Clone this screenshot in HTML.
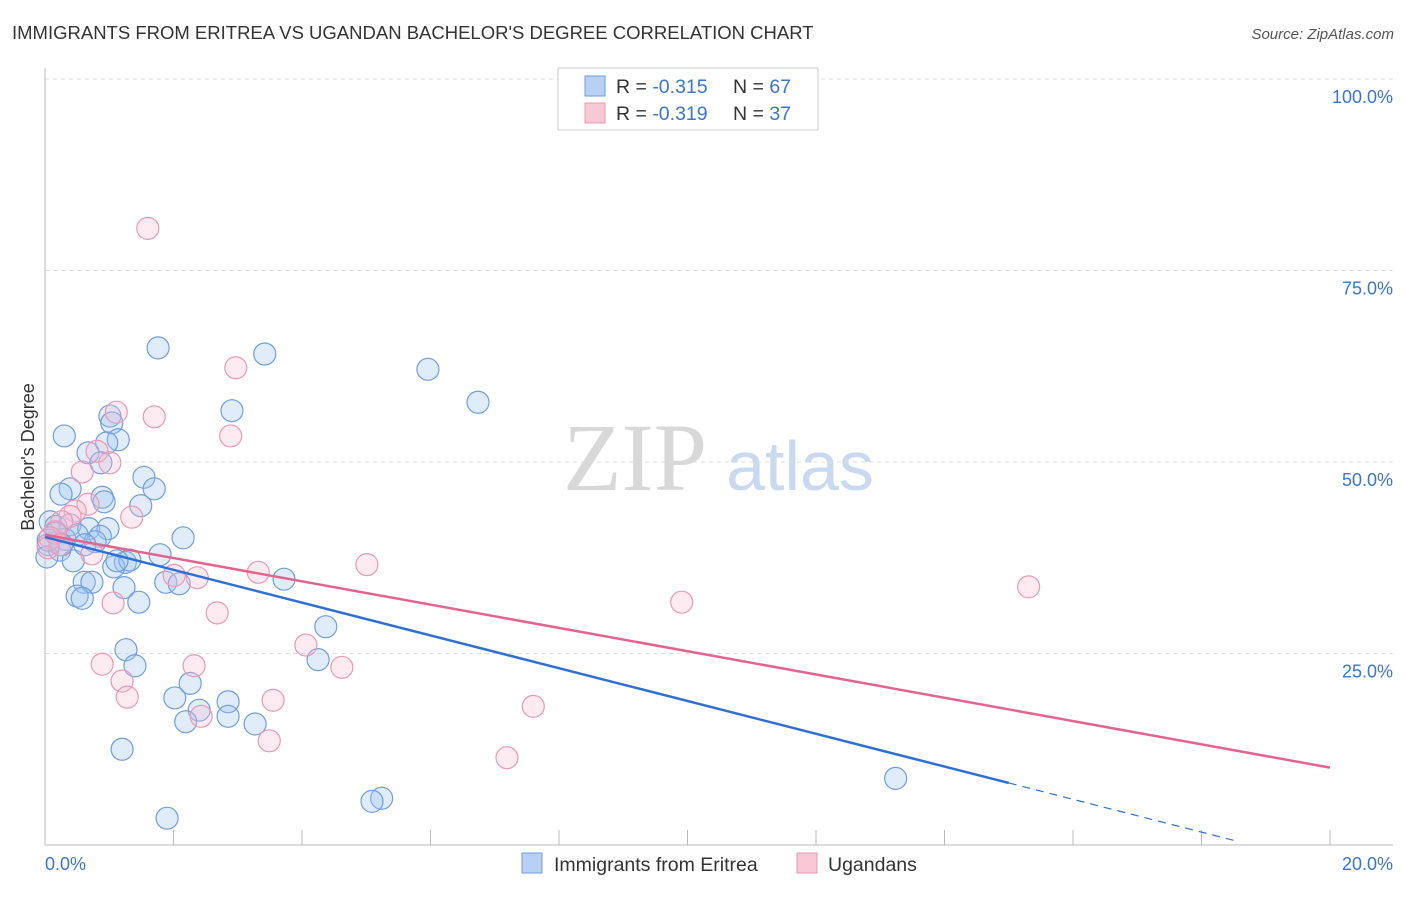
<!DOCTYPE html>
<html><head><meta charset="utf-8"><style>
body{margin:0;background:#fff;font-family:"Liberation Sans",sans-serif}
svg text{font-family:"Liberation Sans",sans-serif}
</style></head><body>
<svg id="c" width="1406" height="892">
<text x="12" y="39" font-size="18.5" fill="#333">IMMIGRANTS FROM ERITREA VS UGANDAN BACHELOR'S DEGREE CORRELATION CHART</text>
<text x="1394" y="39" font-size="15" fill="#555" text-anchor="end" font-style="italic">Source: ZipAtlas.com</text>
<text x="635" y="490" font-size="96" fill="#d8d8d8" text-anchor="middle" font-family="Liberation Serif" style="font-family:'Liberation Serif',serif">ZIP</text>
<text x="800" y="490" font-size="70" fill="#c9d9ef" text-anchor="middle">atlas</text>
<g id="grid"></g><g id="pts"></g><g id="trend"></g>
<text transform="translate(34,457) rotate(-90)" font-size="18" fill="#333" text-anchor="middle">Bachelor's Degree</text>
<text x="45" y="870" font-size="18" fill="#3a75d0">0.0%</text>
<text x="1393" y="870" font-size="18" fill="#3a75d0" text-anchor="end">20.0%</text>
<g>
<rect x="558" y="68" width="260" height="62" fill="#fff" stroke="#ccc"/>
<rect x="585" y="76" width="20" height="20" fill="#b7d0f3" stroke="#6f9ee0"/>
<rect x="585" y="103" width="20" height="20" fill="#f9c8d7" stroke="#ec98b3"/>
<text x="616" y="93" font-size="19.5" fill="#333">R = <tspan fill="#3a75d0">-0.315</tspan><tspan x="733">N = </tspan><tspan fill="#3a75d0">67</tspan></text>
<text x="616" y="120" font-size="19.5" fill="#333">R = <tspan fill="#3a75d0">-0.319</tspan><tspan x="733">N = </tspan><tspan fill="#3a75d0">37</tspan></text>
</g>
<g>
<rect x="522" y="853" width="20" height="20" fill="#b7d0f3" stroke="#6f9ee0"/>
<text x="554" y="871" font-size="19.5" fill="#333">Immigrants from Eritrea</text>
<rect x="797" y="853" width="20" height="20" fill="#f9c8d7" stroke="#ec98b3"/>
<text x="828" y="871" font-size="19.5" fill="#333">Ugandans</text>
</g>
</svg>
<script>
const yTicks=[25,50,75,100];
const blueX=[1.76,3.42,5.96,6.74,2.91,1.01,1.04,0.30,1.14,0.96,0.67,0.87,1.54,0.39,0.25,1.70,0.89,0.92,1.49,2.15,0.08,0.17,0.39,0.68,0.98,0.86,0.31,0.50,0.78,0.05,0.23,1.79,1.25,1.07,1.32,0.44,1.12,3.72,1.88,2.09,0.61,0.73,1.23,0.50,0.58,1.46,4.37,1.26,1.40,4.25,2.26,2.02,2.85,2.40,2.85,2.19,3.27,1.20,13.24,5.24,5.09,1.90,0.05,0.03,0.16,0.26,0.62];
const blueY=[64.9,64.1,62.1,57.8,56.7,56.0,55.1,53.4,52.9,52.5,51.2,49.9,48.0,46.5,45.8,46.5,45.4,44.8,44.3,40.1,42.2,41.6,41.8,41.3,41.3,40.3,39.9,40.5,39.6,39.2,38.5,37.9,36.9,36.3,37.2,37.1,37.1,34.7,34.3,34.1,34.3,34.3,33.6,32.5,32.2,31.7,28.5,25.5,23.4,24.2,21.1,19.2,18.7,17.6,16.8,16.1,15.8,12.5,8.7,6.1,5.7,3.5,39.8,37.6,40.7,39.2,39.2];
const pinkX=[1.60,2.97,1.11,1.70,2.89,0.81,1.01,0.58,0.67,0.47,0.39,1.35,0.26,0.16,0.08,0.23,0.73,0.05,5.01,3.32,2.37,2.01,15.31,9.91,1.06,2.68,4.06,0.89,2.32,4.62,1.20,1.28,3.55,7.60,2.43,3.49,7.19];
const pinkY=[80.5,62.3,56.5,55.9,53.4,51.4,49.9,48.7,44.5,43.6,42.9,42.8,42.2,40.9,40.1,39.2,38.0,38.8,36.6,35.6,34.9,35.2,33.7,31.7,31.6,30.3,26.1,23.6,23.4,23.2,21.4,19.3,18.9,18.1,16.8,13.6,11.4];
const blueTrend=[40.2,-2.14];
const pinkTrend=[40.5,-1.52];
const NS="http://www.w3.org/2000/svg";
const X=v=>45+v/20*1285, Y=v=>845-v/100*766;
function mk(t,a,p){const e=document.createElementNS(NS,t);for(const k in a)e.setAttribute(k,a[k]);p.appendChild(e);return e;}
const g=document.getElementById('grid');
yTicks.forEach(t=>{
 const l=mk('line',{x1:45,x2:1393,y1:Y(t),y2:Y(t),stroke:'#ddd','stroke-dasharray':'4,4'},g);
 
 
 const tx=mk('text',{x:1393,y:Y(t)+24,'font-size':18,fill:'#3a75d0','text-anchor':'end'},g);
 tx.textContent=t.toFixed(1)+'%';
 
 
});
const ax=mk('line',{x1:45,x2:45,y1:68,y2:845,stroke:'#bbb'},g);


const bx=mk('line',{x1:45,x2:1393,y1:845,y2:845,stroke:'#bbb'},g);


for(let i=0;i<=10;i++){const tk=mk('line',{x1:X(i*2),x2:X(i*2),y1:830,y2:845,stroke:'#bbb'},g);
 
 }
const P=document.getElementById('pts');
blueX.forEach((v,i)=>{const c=mk('circle',{cx:X(v),cy:Y(blueY[i]),r:11,fill:'rgba(160,195,240,0.32)',stroke:'#6f9ee0','stroke-width':1.2},P);
 
 });
pinkX.forEach((v,i)=>{const c=mk('circle',{cx:X(v),cy:Y(pinkY[i]),r:11,fill:'rgba(248,190,210,0.3)',stroke:'#ec98b3','stroke-width':1.2},P);
 
 });
const T=document.getElementById('trend');
const bEnd=15, bDash=18.5;
const l1=mk('line',{x1:X(0),y1:Y(blueTrend[0]),x2:X(bEnd),y2:Y(blueTrend[0]+blueTrend[1]*bEnd),stroke:'#2f6fd6','stroke-width':2.5},T);


const l2=mk('line',{x1:X(bEnd),y1:Y(blueTrend[0]+blueTrend[1]*bEnd),x2:X(bDash),y2:Y(blueTrend[0]+blueTrend[1]*bDash),stroke:'#2f6fd6','stroke-width':1.2,'stroke-dasharray':'8,6'},T);


const l3=mk('line',{x1:X(0),y1:Y(pinkTrend[0]),x2:X(20),y2:Y(pinkTrend[0]+pinkTrend[1]*20),stroke:'#e4648f','stroke-width':2.5},T);


</script>
</body></html>
